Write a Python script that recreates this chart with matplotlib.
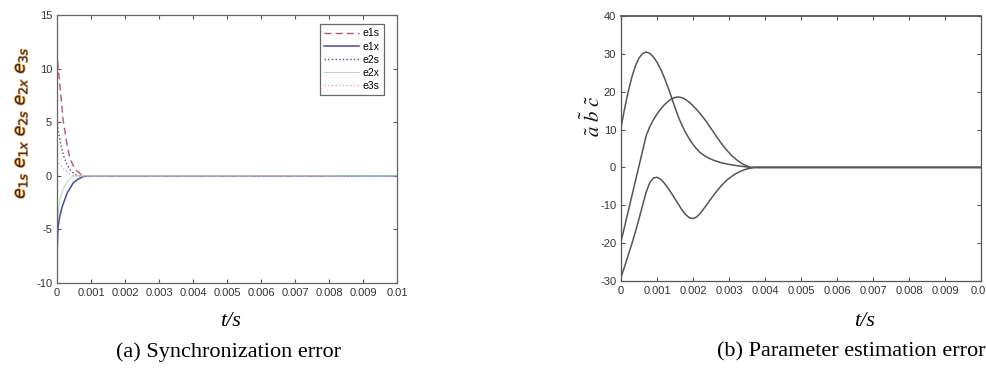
import matplotlib
matplotlib.use("Agg")
import matplotlib.pyplot as plt
import matplotlib.patheffects as pe

plt.rcParams.update({
    "font.family": ["Liberation Sans Narrow", "Liberation Sans", "DejaVu Sans"],
    "font.size": 8,
    "mathtext.fontset": "stix",
    "axes.unicode_minus": False,
    "xtick.direction": "in", "ytick.direction": "in",
    "xtick.top": True, "ytick.right": True,
    "xtick.major.size": 3, "ytick.major.size": 3,
    "axes.linewidth": 0.9,
})

# (a) synchronization errors
t_e1s = [0, 0.00003, 0.00009, 0.00018, 0.00029, 0.00038, 0.0005, 0.00059, 0.0007, 0.0008, 0.001, 0.0083]
v_e1s = [11.7, 10.2, 8.3, 5.2, 3.0, 1.6, 0.8, 0.45, 0.15, 0.0, 0.0, 0.0]
t_e1x = [0, 0.00001, 0.00003, 0.00008, 0.00015, 0.0003, 0.00047, 0.0006, 0.00075, 0.0009, 0.01]
v_e1x = [-7.5, -6.6, -4.8, -3.8, -2.9, -1.6, -0.7, -0.35, -0.1, 0.0, 0.0]
t_e2s = [0, 0.00005, 0.00012, 0.0002, 0.0003, 0.0004, 0.0005, 0.0006, 0.01]
v_e2s = [5.2, 4.0, 2.8, 1.8, 1.0, 0.5, 0.2, 0.0, 0.0]
t_e2x = [0, 0.00005, 0.0001, 0.0002, 0.0003, 0.0004, 0.0005, 0.01]
v_e2x = [-5.0, -3.0, -2.0, -1.1, -0.6, -0.25, 0.0, 0.0]
t_e3s = [0, 0.00005, 0.0001, 0.0002, 0.0003, 0.0004, 0.0005, 0.0083]
v_e3s = [1.5, 1.2, 1.0, 0.6, 0.35, 0.15, 0.0, 0.0]

# (b) parameter estimation errors
t_a = [0, 0.0001, 0.0002, 0.0003, 0.0004, 0.0005, 0.0006, 0.0007, 0.0008, 0.0009, 0.001, 0.0011,
       0.0012, 0.0013, 0.0014, 0.0015, 0.0016, 0.0017, 0.0018, 0.0019, 0.002, 0.0021, 0.0022,
       0.0024, 0.0026, 0.0028, 0.003, 0.0032, 0.0034, 0.0036, 0.01]
v_a = [10.5, 15.5, 20.0, 23.8, 26.8, 28.9, 30.1, 30.5, 30.1, 29.2, 27.8, 26.0,
       23.8, 21.3, 18.6, 15.8, 13.2, 11.0, 9.1, 7.5, 6.1, 4.9, 3.9,
       2.6, 1.8, 1.2, 0.8, 0.5, 0.25, 0.0, 0.0]
t_b = [0, 0.0001, 0.0002, 0.0003, 0.0004, 0.0005, 0.0006, 0.0007, 0.0008, 0.0009, 0.001, 0.0011,
       0.0012, 0.0013, 0.0014, 0.0015, 0.0016, 0.0017, 0.0018, 0.0019, 0.002, 0.0021, 0.0022,
       0.0023, 0.0024, 0.0025, 0.0026, 0.0027, 0.0028, 0.0029, 0.003, 0.0031, 0.0032, 0.0033,
       0.0034, 0.0035, 0.0036, 0.01]
v_b = [-19.6, -15.6, -11.6, -7.6, -3.6, 0.4, 4.4, 8.4, 10.8, 12.6, 14.1, 15.4,
       16.5, 17.4, 18.1, 18.5, 18.6, 18.4, 17.9, 17.2, 16.3, 15.3, 14.2,
       13.0, 11.7, 10.3, 8.9, 7.5, 6.2, 5.0, 3.9, 2.9, 2.1, 1.4,
       0.8, 0.4, 0.0, 0.0]
t_c = [0, 0.0001, 0.0002, 0.0003, 0.0004, 0.0005, 0.0006, 0.0007, 0.0008, 0.0009, 0.001, 0.0011,
       0.0012, 0.0013, 0.0014, 0.0015, 0.0016, 0.0017, 0.0018, 0.0019, 0.002, 0.0021, 0.0022,
       0.0023, 0.0024, 0.0025, 0.0026, 0.0027, 0.0028, 0.0029, 0.003, 0.0031, 0.0032, 0.0033,
       0.0034, 0.0035, 0.0036, 0.0037, 0.01]
v_c = [-29.0, -26.2, -23.2, -20.2, -17.0, -13.6, -10.0, -6.5, -4.0, -2.8, -2.6, -3.1,
       -4.1, -5.4, -6.8, -8.3, -9.8, -11.3, -12.5, -13.3, -13.5, -13.1, -12.1,
       -10.9, -9.6, -8.3, -7.0, -5.8, -4.7, -3.7, -2.9, -2.2, -1.6, -1.1,
       -0.7, -0.4, -0.2, 0.0, 0.0]

X_TICKS = [0, 0.001, 0.002, 0.003, 0.004, 0.005, 0.006, 0.007, 0.008, 0.009, 0.01]
X_LABELS = ["0", "0.001", "0.002", "0.003", "0.004", "0.005", "0.006", "0.007", "0.008", "0.009", "0.01"]

W, H = 987, 372
fig = plt.figure(figsize=(W / 100, H / 100), dpi=100)


def box(px_left, px_top, px_right, px_bottom):
    return [px_left / W, 1 - px_bottom / H, (px_right - px_left) / W, (px_bottom - px_top) / H]


ax1 = fig.add_axes(box(57, 15, 397, 283))
ax1.plot(t_e1s, v_e1s, ls=(0, (5, 3)), color="#b05a78", lw=1.0, label="e1s")
ax1.plot(t_e1x, v_e1x, "-", color="#4a4a98", lw=1.1, label="e1x")
ax1.plot(t_e2s, v_e2s, ":", color="#555577", lw=1.0, label="e2s")
ax1.plot(t_e2x, v_e2x, "-", color="#bcd8c8", lw=0.8, label="e2x")
ax1.plot(t_e3s, v_e3s, ":", color="#e8a8b8", lw=1.0, label="e3s")
ax1.set_xlim(0, 0.01)
ax1.set_ylim(-10, 15)
ax1.set_yticks([-10, -5, 0, 5, 10, 15])
ax1.set_xticks(X_TICKS)
ax1.set_xticklabels(X_LABELS)
ax1.tick_params(colors="#555555", labelcolor="#333333")
for s in ax1.spines.values():
    s.set_color("#666666")
leg = ax1.legend(loc="upper right", fontsize=7.5, frameon=True, fancybox=False,
                 edgecolor="#444444", handlelength=3.4, handletextpad=0.3,
                 borderpad=0.4, labelspacing=0.3,
                 bbox_to_anchor=(0.976, 0.985))
leg.get_frame().set_linewidth(0.9)

fig.text(21 / W, 1 - 123 / H, r"$e_{1s}\ e_{1x}\ e_{2s}\ e_{2x}\ e_{3s}$",
         rotation=90, ha="center", va="center", fontsize=12.5, color="#2a2a55",
         math_fontfamily="dejavusans",
         path_effects=[pe.withStroke(linewidth=1.0, foreground="#f2a640")])

ax2 = fig.add_axes(box(621, 16, 981, 281))
for t, v in [(t_a, v_a), (t_b, v_b), (t_c, v_c)]:
    ax2.plot(t, v, "-", color="#555555", lw=1.1)
ax2.set_xlim(0, 0.01)
ax2.set_ylim(-30, 40)
ax2.set_yticks([-30, -20, -10, 0, 10, 20, 30, 40])
ax2.set_xticks(X_TICKS)
ax2.set_xticklabels(X_LABELS)
ax2.tick_params(colors="#555555", labelcolor="#333333")
for s in ax2.spines.values():
    s.set_color("#555555")
ax2.spines["top"].set_linewidth(1.3)

fig.text(592 / W, 1 - 116 / H, r"$\tilde{a}\ \tilde{b}\ \tilde{c}$", rotation=90,
         ha="center", va="center", fontsize=15, color="#111111")

serif = ["Liberation Serif", "DejaVu Serif"]
fig.text(230 / W, 1 - 321 / H, "t/s", ha="center", va="center", fontsize=16,
         style="italic", family=serif)
fig.text(229 / W, 1 - 352 / H, "(a) Synchronization error", ha="center", va="center",
         fontsize=16, family=serif)
fig.text(864 / W, 1 - 321 / H, "t/s", ha="center", va="center", fontsize=16,
         style="italic", family=serif)
fig.text(851 / W, 1 - 352 / H, "(b) Parameter estimation error", ha="center", va="center",
         fontsize=16, family=serif)

fig.savefig("out.png", dpi=100)
